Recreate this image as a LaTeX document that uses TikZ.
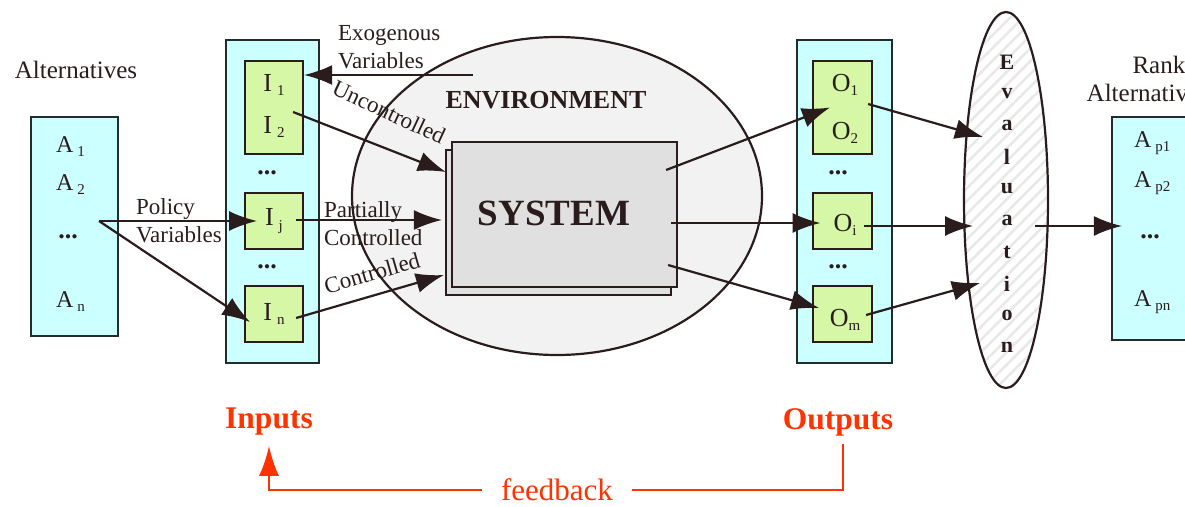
\documentclass[tikz,border=0pt]{standalone}
\usepackage{fontspec}
\setmainfont{Liberation Serif}
\usetikzlibrary{arrows.meta}
\usetikzlibrary{shapes.geometric}
\usetikzlibrary{patterns.meta}

\definecolor{boxcyan}{HTML}{CCFFFF}
\definecolor{vargreen}{HTML}{D6F7A6}
\definecolor{envgray}{HTML}{F2F2F2}
\definecolor{sysgray}{HTML}{E0E0E0}
\definecolor{fbred}{HTML}{FF3300}
\definecolor{ink}{HTML}{2A1C1C}

\newcommand{\setfs}[1]{\fontsize{#1}{28}\selectfont}
\newcommand{\idx}[1]{\raisebox{-0.35ex}{\fontsize{15}{15}\selectfont #1}}

\begin{document}
\begin{tikzpicture}[x=1pt,y=-1pt,line width=2.2pt,
    outer box/.style={draw=ink!85!teal,fill=boxcyan,inner sep=0pt},
    var box/.style={draw=ink,fill=vargreen,minimum width=58pt,inner sep=0pt},
    sys box/.style={draw=ink,fill=sysgray,minimum width=225pt,minimum height=145pt,inner sep=0pt},
    plain text/.style={font=\setfs{23},text=ink,inner sep=0pt},
    item text/.style={font=\setfs{24},text=ink,inner sep=0pt},
    var text/.style={font=\setfs{26},text=ink,inner sep=0pt},
    dots/.style={font=\bfseries\setfs{26},text=ink,inner sep=0pt},
    red title/.style={font=\bfseries\setfs{31.5},text=fbred,inner sep=0pt},
    flow/.style={-{Latex[length=28pt,width=20pt]},color=ink},
    fb line/.style={draw=fbred,line width=2.5pt}]
  \useasboundingbox (0,0) rectangle (1185,506);

  % environment and evaluation ellipses
  \node[ellipse,draw=ink,fill=envgray,minimum width=410pt,minimum height=318pt,inner sep=0pt] (env) at (557,196) {};
  \node[ellipse,draw=ink,pattern={Lines[angle=45,distance=9pt,line width=2.5pt]},pattern color=gray!18,
    minimum width=84pt,minimum height=376pt,inner sep=0pt] (eval) at (1006,200) {};
  \node[font=\bfseries\setfs{26},text=ink] (envtext) at (546,100) {ENVIRONMENT};

  % alternatives
  \node[item text,font=\setfs{25}] (alttitle) at (76,70) {Alternatives};
  \node[outer box,minimum width=87pt,minimum height=219pt] (alts) at (74.5,226.5) {};
  \node[item text,anchor=west] (a1) at (55,147) {A\hspace{4pt}\idx{1}};
  \node[item text,anchor=west] (a2) at (55,185) {A\hspace{4pt}\idx{2}};
  \node[dots] (adots) at (68,237) {...};
  \node[item text,anchor=west] (an) at (55,302) {A\hspace{4pt}\idx{n}};

  % inputs
  \node[outer box,minimum width=93pt,minimum height=323pt] (inbox) at (272.5,201.5) {};
  \node[var box,minimum height=93pt] (i12) at (274,107.5) {};
  \node[var box,minimum height=56pt] (ij) at (274,221) {};
  \node[var box,minimum height=56pt] (in) at (274,314) {};
  \node[var text] (i1) at (274,85) {I\hspace{5pt}\idx{1}};
  \node[var text] (i2) at (274,127) {I\hspace{5pt}\idx{2}};
  \node[var text] (ijt) at (274,221) {I\hspace{5pt}\idx{j}};
  \node[var text] (int) at (274,314) {I\hspace{5pt}\idx{n}};
  \node[dots] (idots1) at (267,173) {...};
  \node[dots] (idots2) at (267,267) {...};

  % system with its shadow
  \node[sys box] (sysshadow) at (558.5,222.5) {};
  \node[sys box] (sys) at (564.5,214.5) {};
  \node[font=\bfseries\setfs{37},text=ink] (systext) at (554,213) {SYSTEM};

  % outputs
  \node[outer box,minimum width=95pt,minimum height=323pt] (outbox) at (844.5,201.5) {};
  \node[var box,minimum width=59pt,minimum height=93pt] (o12) at (842.5,107.5) {};
  \node[var box,minimum width=59pt,minimum height=56pt] (oi) at (842.5,221) {};
  \node[var box,minimum width=59pt,minimum height=56pt] (om) at (842.5,314) {};
  \node[var text] (o1) at (845,85) {O\idx{1}};
  \node[var text] (o2) at (845,133) {O\idx{2}};
  \node[var text] (oit) at (845,225) {O\idx{i}};
  \node[var text] (omt) at (845,320) {O\idx{m}};
  \node[dots] (odots1) at (838,173) {...};
  \node[dots] (odots2) at (838,267) {...};

  % ranked alternatives
  \node[item text,font=\setfs{25},align=right,anchor=north east] (rtitle) at (1210,55) {Ranked\\Alternatives};
  \node[outer box,minimum width=90pt,minimum height=223pt] (ranked) at (1157,228.5) {};
  \node[item text,anchor=west] (ap1) at (1133,143) {A\hspace{4pt}\idx{p1}};
  \node[item text,anchor=west] (ap2) at (1133,183) {A\hspace{4pt}\idx{p2}};
  \node[dots] (apdots) at (1150,237) {...};
  \node[item text,anchor=west] (apn) at (1133,302) {A\hspace{4pt}\idx{pn}};

  % evaluation letters
  \foreach \ch [count=\k] in {E,v,a,l,u,a,t,i,o,n}
    \node[font=\bfseries\setfs{22},text=ink,inner sep=0pt] (ev\k) at (1007,{62+31.7*(\k-1)}) {\ch};

  % labels
  \node[plain text,align=left,anchor=west] (exolabel) at (337,47.5) {Exogenous\\Variables};
  \node[plain text,align=left,anchor=west] (pollabel) at (135,220.5) {Policy\\Variables};
  \node[plain text,align=left,anchor=west] (partlabel) at (323,224) {Partially\\Controlled};
  \node[plain text,rotate=-25] (unclabel) at (389,112) {Uncontrolled};
  \node[plain text,rotate=16] (ctllabel) at (372,273) {Controlled};

  % input arrows
  \coordinate (exo) at (473,75);
  \coordinate (pol) at (99,221);
  \path[flow] (exo) edge (exo -| i12.east);
  \path[flow] (pol) edge ([xshift=-17pt]ij.center);
  \path[flow] (pol) edge ([xshift=-24pt,yshift=-8pt]in.center);
  \path[flow] ([xshift=-11pt,yshift=-4.5pt]i12.east) edge ([xshift=-5pt,yshift=42.5pt]sys.west);
  \path[flow] ([xshift=-8pt,yshift=1pt]ij.east) edge ([xshift=-9pt,yshift=-5.5pt]sys.west);
  \path[flow] ([xshift=-8pt,yshift=-4pt]in.east) edge ([xshift=-7pt,yshift=-60.5pt]sys.west);

  % output arrows
  \path[flow] ([xshift=-12pt,yshift=44.5pt]sys.east) edge ([xshift=-12.5pt]o12.center);
  \path[flow] ([xshift=-7pt,yshift=-8.5pt]sys.east) edge ([xshift=-22pt,yshift=-2pt]oi.center);
  \path[flow] ([xshift=-10pt,yshift=-50.5pt]sys.east) edge ([xshift=-23.5pt,yshift=6pt]om.center);
  \path[flow] ([xshift=-5pt,yshift=3.5pt]o12.east) edge ([xshift=-23pt,yshift=63pt]eval.center);
  \path[flow] ([xshift=-9pt,yshift=-5pt]oi.east) edge ([xshift=-33pt,yshift=-26pt]eval.center);
  \path[flow] ([xshift=-7pt,yshift=-1pt]om.east) edge ([xshift=-26pt,yshift=-83pt]eval.center);
  \path[flow] ([xshift=29pt,yshift=-26pt]eval.center) edge ([xshift=11pt,yshift=2.5pt]ranked.west);

  % feedback loop
  \node[red title] (intitle) at (269,422) {Inputs};
  \node[red title] (outtitle) at (838,422) {Outputs};
  \node[font=\setfs{31},text=fbred,inner xsep=18pt,inner ysep=0pt] (fbtext) at (557,490) {feedback};
  \draw[fb line] ([xshift=5pt,yshift=-7pt]outtitle.south) |- (fbtext.east);
  \draw[fb line,-{Latex[length=30pt,width=20pt]}] (fbtext.west) -| ([yshift=-9pt]intitle.south);
\end{tikzpicture}
\end{document}
